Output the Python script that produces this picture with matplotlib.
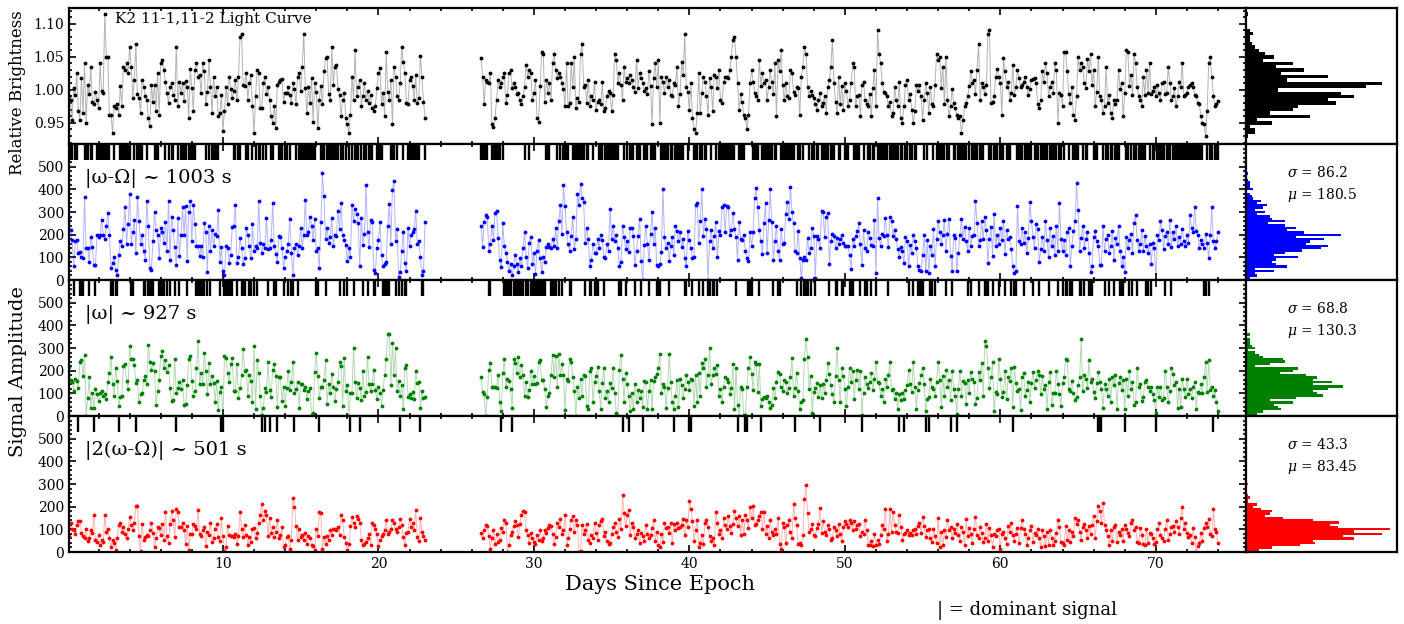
import numpy as np
import matplotlib
matplotlib.use('Agg')
import matplotlib.pyplot as plt
from matplotlib.ticker import MultipleLocator, AutoMinorLocator

plt.rcParams['font.family'] = ['DejaVu Serif']
plt.rcParams['mathtext.fontset'] = 'dejavuserif'

# time sampling (days since epoch), two campaign segments
cadence = 0.1
seg1_start = 0.1
seg2_start = 26.6

# relative brightness in units of 1/1000
bright_seg1 = [
    990, 985, 955, 1003, 992, 1025, 968, 955, 1018, 965,
    1040, 950, 1008, 993, 1035, 982, 978, 997, 985, 972,
    1040, 998, 995, 1115, 1050, 1050, 962, 962, 935, 975,
    972, 978, 962, 1006, 975, 1035, 1030, 1040, 1025, 1065,
    1035, 988, 1015, 1070, 994, 988, 965, 1015, 1005, 990,
    985, 957, 945, 1008, 982, 1008, 968, 1025, 962, 1040,
    1045, 1030, 1012, 995, 980, 1005, 1010, 992, 985, 1065,
    975, 1012, 995, 1010, 983, 1013, 1005, 958, 1032, 1003,
    968, 1030, 1040, 1020, 1022, 995, 1040, 1028, 978, 997,
    1045, 1005, 965, 1020, 990, 1005, 960, 965, 992, 938,
    968, 1005, 978, 1020, 1002, 988, 998, 1015, 985, 1020,
    1080, 1085, 1008, 1006, 1025, 985, 1010, 1022, 975, 935,
    990, 1030, 1025, 972, 972, 1010, 1020, 994, 1005, 985,
    960, 950, 975, 942, 1008, 1012, 1015, 1017, 982, 995,
    995, 1005, 992, 980, 1010, 1002, 978, 1020, 1025, 998,
    1035, 1085, 1003, 965, 1005, 980, 1018, 952, 1010, 997,
    942, 985, 1006, 978, 1028, 1048, 1050, 994, 985, 1065,
    1008, 1035, 1038, 1002, 992, 960, 985, 995, 958, 948,
    935, 962, 1020, 985, 1060, 990, 1005, 1015, 975, 990,
    1010, 985, 998, 980, 992, 972, 968, 975, 1003, 1025,
    1033, 978, 995, 960, 1058, 997, 985, 1015, 948, 1035,
    1020, 990, 985, 1010, 1065, 1042, 1025, 980, 978, 1015,
    1020, 1006, 985, 1022, 980, 988, 1052, 1020, 982, 958,
]
bright_seg2 = [
    1048, 1020, 978, 1015, 1012,
    1010, 1025, 948, 943, 958, 985, 1015, 1005, 1010, 1020,
    1025, 980, 992, 1025, 1030, 1003, 1010, 1005, 994, 995,
    985, 978, 990, 1005, 1038, 1020, 1030, 1025, 985, 995,
    1015, 958, 952, 1006, 1058, 1055, 982, 1015, 995, 1010,
    985, 1040, 1055, 1030, 1018, 1025, 1020, 1010, 1002, 975,
    1040, 975, 980, 1040, 1005, 1050, 972, 988, 982, 1055,
    1070, 1005, 1008, 980, 1015, 975, 990, 985, 1012, 970,
    982, 985, 978, 1012, 968, 972, 990, 998, 996, 968,
    992, 1055, 1045, 1010, 1025, 1008, 985, 1035, 1012, 1018,
    1010, 1022, 1015, 1005, 997, 1045, 1003, 1025, 1018, 1010,
    998, 1003, 994, 1028, 1006, 948, 1018, 1040, 1005, 1045,
    950, 1020, 1012, 995, 1020, 1005, 1015, 992, 990, 1010,
    1008, 1035, 975, 994, 1042, 1022, 1085, 1005, 997, 970,
    1010, 958, 940, 935, 965, 1025, 965, 995, 1020, 1012,
    990, 962, 1018, 1005, 968, 1022, 1020, 1003, 1030, 985,
    980, 1012, 1020, 1020, 1018, 1030, 1050, 1075, 1080, 1050,
    1010, 970, 993, 982, 962, 958, 940, 962, 1010, 1030,
    1012, 995, 990, 985, 1045, 1006, 1025, 1010, 1015, 985,
    1005, 1030, 1012, 994, 1040, 960, 1045, 1028, 1060, 1008,
    985, 1010, 990, 988, 1030, 1025, 997, 992, 1005, 1003,
    962, 1020, 1035, 1065, 1055, 1005, 990, 998, 992, 988,
    978, 970, 985, 995, 975, 980, 990, 965, 1005, 1015,
    1035, 1075, 1010, 982, 965, 1020, 978, 1006, 970, 1010,
    998, 975, 985, 1010, 1040, 1035, 975, 990, 992, 960,
    1008, 1012, 985, 978, 975, 994, 960, 1003, 1030, 975,
    1090, 1055, 1040, 1010, 997, 995, 990, 975, 982, 960,
    965, 1005, 985, 975, 1012, 958, 950, 975, 1007, 1015,
    985, 993, 970, 950, 968, 1008, 998, 1008, 990, 955,
    985, 1010, 996, 965, 1005, 978, 975, 1008, 1055, 1045,
    1050, 1003, 1035, 978, 1050, 985, 960, 975, 1002, 980,
    972, 962, 958, 960, 935, 955, 975, 980, 990, 1006,
    1028, 1010, 1015, 994, 1030, 1070, 985, 1010, 1005, 993,
    1007, 1085, 1090, 980, 982, 990, 1020, 1032, 1020, 1010,
    962, 1048, 1028, 1005, 1012, 985, 996, 1038, 992, 1005,
    1030, 1018, 1005, 1008, 1012, 1020, 1005, 992, 1002, 1015,
    1017, 1018, 1010, 978, 972, 985, 1028, 1012, 1040, 1025,
    990, 1005, 1012, 995, 1040, 1030, 950, 995, 992, 975,
    1058, 1057, 1028, 994, 980, 1005, 962, 955, 990, 1050,
    1030, 1040, 1035, 1010, 1003, 1047, 1028, 1055, 1008, 1030,
    975, 997, 1050, 990, 985, 965, 975, 1035, 980, 992,
    965, 958, 985, 978, 985, 1030, 1002, 1010, 960, 995,
    1060, 1058, 1006, 1022, 992, 1055, 1040, 1005, 990, 985,
    975, 1020, 992, 1030, 995, 1040, 993, 998, 1005, 990,
    1007, 995, 985, 1010, 1012, 994, 995, 1035, 1010, 985,
    990, 1003, 975, 990, 1012, 1005, 1040, 990, 992, 996,
    1005, 1008, 1010, 1005, 992, 990, 980, 978, 960, 950,
    948, 930, 968, 1040, 1050, 1020, 990, 975, 978, 983,
]

# |w - W| amplitude
amp_beat_seg1 = [
    280, 220, 175, 60, 170, 175, 118, 125, 100, 95,
    365, 140, 142, 80, 190, 145, 65, 65, 200, 190,
    200, 265, 200, 180, 240, 295, 200, 55, 75, 100,
    45, 20, 110, 170, 150, 225, 320, 160, 245, 380,
    160, 210, 265, 120, 365, 260, 160, 200, 128, 90,
    350, 240, 55, 45, 170, 300, 220, 200, 95, 230,
    210, 165, 255, 130, 350, 90, 280, 220, 145, 65,
    275, 105, 200, 320, 200, 325, 85, 300, 350, 170,
    330, 245, 150, 150, 105, 150, 100, 250, 210, 35,
    240, 130, 220, 150, 205, 195, 310, 80, 145, 40,
    20, 150, 140, 75, 110, 235, 240, 330, 75, 100,
    185, 140, 70, 95, 230, 200, 150, 95, 245, 130,
    150, 140, 350, 165, 120, 160, 140, 275, 135, 140,
    175, 340, 150, 115, 80, 195, 190, 140, 55, 100,
    130, 160, 270, 120, 22, 140, 160, 110, 150, 230,
    140, 200, 355, 200, 210, 280, 240, 175, 270, 130,
    140, 55, 255, 470, 370, 180, 230, 165, 190, 275,
    150, 200, 195, 305, 225, 340, 200, 175, 155, 85,
    140, 100, 330, 260, 315, 290, 250, 60, 275, 155,
    205, 420, 210, 145, 265, 255, 45, 30, 140, 175,
    255, 110, 60, 70, 80, 240, 335, 160, 395, 435,
    170, 225, 15, 35, 130, 210, 75, 40, 230, 150,
    200, 210, 225, 305, 160, 170, 100, 20, 40, 255,
]
amp_beat_seg2 = [
    240, 145, 258, 288, 280,
    130, 160, 240, 175, 295, 303, 185, 87, 57, 250,
    150, 120, 80, 40, 70, 20, 60, 110, 70, 35,
    95, 60, 140, 210, 100, 55, 165, 190, 70, 120,
    25, 130, 175, 95, 35, 100, 80, 145, 160, 145,
    140, 180, 150, 230, 140, 260, 330, 205, 420, 325,
    210, 160, 130, 195, 280, 135, 180, 380, 330, 425,
    360, 345, 165, 230, 180, 60, 90, 160, 120, 120,
    180, 140, 200, 175, 100, 95, 160, 130, 315, 180,
    240, 170, 200, 140, 60, 80, 240, 190, 135, 170,
    125, 230, 230, 195, 65, 130, 195, 270, 85, 0,
    155, 240, 160, 90, 205, 300, 160, 230, 65, 60,
    70, 125, 400, 190, 140, 165, 85, 150, 190, 110,
    240, 215, 170, 210, 145, 180, 95, 60, 215, 175,
    140, 95, 100, 330, 340, 165, 260, 400, 195, 270,
    225, 0, 170, 220, 140, 195, 255, 100, 215, 200,
    320, 330, 210, 325, 320, 200, 220, 295, 225, 190,
    90, 255, 180, 175, 200, 130, 95, 85, 210, 150,
    210, 360, 405, 320, 220, 170, 115, 250, 340, 120,
    265, 400, 255, 90, 170, 240, 130, 90, 225, 160,
    165, 290, 345, 270, 410, 300, 250, 130, 120, 215,
    95, 10, 90, 100, 90, 185, 120, 140, 230, 195,
    10, 195, 180, 140, 305, 300, 190, 280, 295, 70,
    170, 205, 195, 140, 185, 160, 180, 200, 165, 150,
    150, 150, 110, 50, 180, 150, 195, 215, 250, 160,
    65, 220, 140, 130, 210, 185, 155, 150, 265, 30,
    360, 185, 150, 205, 195, 275, 200, 145, 280, 260,
    195, 220, 180, 135, 100, 145, 130, 75, 190, 170,
    60, 155, 120, 200, 170, 140, 60, 45, 40, 110,
    200, 40, 175, 30, 150, 110, 225, 60, 180, 260,
    210, 160, 200, 265, 130, 205, 270, 105, 40, 200,
    185, 40, 120, 200, 270, 180, 235, 170, 130, 230,
    150, 195, 200, 350, 250, 150, 175, 260, 180, 280,
    220, 75, 180, 235, 105, 290, 150, 200, 160, 230,
    175, 260, 115, 220, 180, 190, 135, 60, 30, 40,
    325, 170, 160, 230, 165, 210, 120, 185, 345, 260,
    190, 140, 245, 225, 80, 135, 190, 130, 260, 175,
    100, 230, 150, 195, 110, 240, 130, 340, 180, 130,
    175, 110, 210, 230, 60, 150, 215, 260, 430, 310,
    130, 185, 240, 140, 180, 210, 120, 35, 60, 190,
    215, 170, 150, 65, 65, 240, 130, 180, 200, 120,
    150, 215, 90, 185, 160, 240, 130, 60, 100, 35,
    190, 140, 175, 205, 120, 250, 285, 175, 130, 160,
    220, 130, 195, 150, 120, 160, 70, 165, 140, 0,
    200, 175, 260, 220, 135, 195, 210, 160, 265, 145,
    210, 180, 240, 150, 190, 160, 225, 170, 150, 200,
    165, 285, 230, 210, 320, 215, 200, 140, 175, 160,
    140, 205, 165, 95, 200, 320, 170, 140, 170, 210,
]

# |w| amplitude
amp_spin_seg1 = [
    215, 160, 150, 110, 165, 155, 125, 240, 245, 175,
    270, 0, 80, 170, 35, 100, 35, 120, 95, 65,
    100, 110, 90, 95, 75, 150, 190, 260, 140, 90,
    210, 155, 45, 85, 90, 220, 230, 155, 120, 310,
    250, 250, 225, 145, 160, 60, 95, 100, 160, 175,
    140, 315, 240, 205, 235, 200, 50, 110, 160, 265,
    285, 210, 245, 195, 225, 125, 65, 70, 250, 100,
    125, 150, 120, 160, 50, 55, 135, 250, 265, 155,
    90, 110, 210, 330, 140, 190, 140, 280, 200, 95,
    235, 140, 175, 145, 60, 155, 25, 105, 130, 0,
    265, 255, 190, 150, 230, 255, 110, 110, 230, 80,
    125, 180, 295, 200, 205, 90, 180, 155, 60, 310,
    30, 245, 190, 90, 5, 35, 125, 105, 240, 115,
    85, 205, 230, 175, 40, 170, 170, 65, 130, 45,
    125, 200, 115, 150, 240, 100, 120, 150, 35, 140,
    140, 115, 130, 75, 110, 125, 5, 15, 195, 280,
    175, 80, 130, 130, 160, 245, 55, 140, 100, 185,
    130, 65, 120, 150, 240, 220, 45, 255, 110, 135,
    0, 100, 100, 300, 150, 80, 145, 125, 70, 200,
    90, 105, 260, 140, 110, 140, 205, 115, 75, 130,
    100, 45, 115, 180, 250, 360, 360, 135, 320, 180,
    300, 110, 155, 90, 135, 30, 210, 225, 85, 95,
    80, 105, 75, 200, 145, 150, 35, 110, 80, 85,
]
amp_spin_seg2 = [
    170, 105, 95, 0, 85,
    205, 235, 130, 130, 130, 125, 180, 60, 20, 190,
    250, 130, 165, 155, 120, 35, 250, 235, 190, 260,
    170, 225, 180, 90, 150, 85, 115, 200, 140, 175,
    140, 145, 240, 245, 160, 160, 120, 40, 90, 100,
    180, 270, 170, 265, 130, 275, 180, 230, 180, 25,
    165, 155, 250, 240, 170, 110, 0, 130, 80, 165,
    90, 180, 175, 45, 30, 200, 210, 60, 150, 175,
    215, 110, 30, 145, 210, 80, 110, 60, 145, 125,
    210, 100, 15, 0, 205, 270, 165, 60, 190, 140,
    90, 20, 100, 30, 140, 60, 115, 80, 110, 40,
    155, 150, 30, 110, 160, 30, 155, 170, 185, 210,
    275, 100, 140, 130, 35, 125, 275, 150, 60, 30,
    90, 160, 40, 165, 135, 80, 120, 180, 150, 115,
    165, 160, 45, 180, 60, 190, 90, 235, 210, 250,
    130, 180, 300, 140, 180, 210, 185, 225, 90, 120,
    60, 130, 170, 165, 150, 95, 125, 230, 30, 210,
    50, 0, 130, 120, 5, 5, 130, 210, 260, 185,
    115, 240, 230, 105, 230, 45, 75, 85, 80, 90,
    60, 35, 50, 125, 80, 150, 195, 185, 130, 110,
    160, 150, 100, 125, 170, 255, 90, 125, 190, 110,
    30, 60, 70, 250, 340, 260, 120, 175, 15, 105,
    125, 145, 85, 135, 80, 140, 100, 160, 235, 185,
    135, 95, 60, 175, 300, 160, 60, 210, 175, 120,
    45, 130, 210, 150, 200, 75, 160, 205, 120, 200,
    5, 100, 170, 140, 125, 150, 190, 115, 165, 240,
    150, 145, 90, 120, 60, 165, 130, 180, 240, 115,
    120, 75, 100, 30, 95, 70, 100, 75, 115, 135,
    205, 140, 105, 240, 130, 30, 115, 145, 180, 210,
    140, 20, 75, 85, 165, 130, 120, 90, 150, 240,
    160, 40, 175, 90, 205, 130, 160, 70, 200, 120,
    90, 10, 120, 200, 90, 155, 145, 55, 160, 100,
    195, 165, 150, 55, 80, 195, 160, 235, 90, 330,
    310, 210, 125, 170, 240, 20, 105, 95, 250, 165,
    85, 105, 200, 75, 170, 155, 210, 40, 215, 145,
    110, 120, 25, 170, 190, 90, 115, 150, 60, 145,
    195, 125, 160, 200, 180, 95, 175, 120, 135, 30,
    150, 195, 50, 100, 100, 200, 140, 95, 45, 145,
    170, 250, 245, 120, 110, 155, 100, 70, 85, 135,
    170, 340, 110, 180, 165, 125, 245, 150, 165, 105,
    80, 145, 195, 150, 120, 35, 140, 120, 90, 165,
    60, 170, 135, 180, 30, 145, 170, 115, 160, 30,
    165, 90, 200, 120, 150, 50, 60, 210, 130, 140,
    65, 85, 150, 160, 130, 110, 130, 95, 70, 15,
    130, 85, 130, 70, 80, 200, 130, 60, 110, 210,
    185, 135, 150, 35, 120, 40, 165, 120, 85, 165,
    95, 120, 80, 130, 150, 30, 105, 100, 140, 100,
    170, 240, 105, 245, 115, 130, 90, 115, 60, 20,
]

# |2(w - W)| amplitude
amp_harm_seg1 = [
    70, 130, 100, 95, 80, 120, 135, 135, 85, 70,
    60, 100, 50, 60, 95, 85, 165, 55, 45, 75,
    30, 55, 45, 165, 90, 100, 60, 20, 55, 40,
    10, 60, 120, 130, 90, 110, 80, 60, 100, 155,
    120, 95, 130, 205, 205, 70, 5, 125, 55, 65,
    75, 70, 95, 130, 85, 20, 60, 110, 105, 75,
    125, 55, 175, 70, 40, 125, 180, 140, 65, 190,
    175, 110, 110, 130, 95, 35, 115, 10, 80, 80,
    125, 115, 100, 185, 80, 70, 95, 110, 25, 90,
    75, 130, 45, 60, 100, 125, 65, 50, 150, 70,
    5, 20, 115, 75, 70, 70, 65, 80, 35, 70,
    175, 100, 65, 120, 75, 30, 65, 45, 100, 105,
    60, 85, 130, 165, 210, 140, 180, 165, 70, 150,
    85, 110, 65, 90, 140, 60, 75, 110, 20, 30,
    65, 70, 15, 55, 240, 200, 115, 55, 100, 65,
    75, 55, 85, 35, 70, 60, 30, 25, 10, 100,
    70, 175, 170, 15, 65, 35, 70, 55, 95, 75,
    100, 100, 95, 110, 75, 165, 140, 65, 40, 10,
    35, 115, 155, 130, 110, 160, 145, 130, 55, 30,
    35, 45, 60, 80, 30, 130, 120, 100, 80, 25,
    55, 70, 80, 95, 140, 80, 90, 100, 140, 130,
    100, 90, 110, 145, 120, 65, 30, 85, 90, 145,
    110, 130, 95, 185, 65, 50, 150, 90, 70, 55,
]
amp_harm_seg2 = [
    85, 60, 95, 120, 115,
    70, 15, 60, 95, 35, 80, 45, 55, 105, 90,
    140, 130, 0, 30, 75, 90, 115, 135, 120, 65,
    125, 165, 180, 175, 95, 75, 40, 85, 60, 45,
    35, 75, 55, 95, 50, 60, 95, 85, 105, 120,
    115, 80, 35, 65, 130, 110, 145, 80, 95, 165,
    30, 60, 100, 140, 160, 90, 140, 120, 0, 5,
    120, 80, 95, 125, 55, 40, 75, 60, 130, 85,
    55, 120, 135, 145, 70, 90, 50, 35, 40, 80,
    110, 130, 90, 65, 145, 100, 250, 170, 115, 165,
    185, 75, 130, 110, 60, 80, 95, 40, 85, 70,
    50, 120, 80, 60, 75, 105, 140, 50, 90, 30,
    20, 80, 45, 130, 105, 110, 85, 130, 40, 125,
    95, 130, 105, 110, 120, 145, 75, 140, 110, 225,
    190, 135, 50, 95, 140, 20, 40, 75, 35, 130,
    140, 110, 70, 50, 60, 30, 175, 130, 80, 95,
    60, 150, 120, 100, 160, 115, 85, 125, 180, 150,
    115, 160, 75, 140, 80, 165, 140, 105, 200, 150,
    205, 120, 125, 140, 160, 175, 100, 175, 80, 115,
    60, 140, 90, 75, 100, 80, 150, 35, 15, 130,
    110, 40, 120, 140, 90, 60, 210, 150, 120, 35,
    40, 30, 75, 235, 295, 170, 90, 100, 125, 75,
    70, 105, 125, 195, 85, 135, 90, 75, 120, 100,
    55, 60, 110, 95, 70, 125, 80, 50, 110, 135,
    125, 110, 140, 130, 95, 135, 100, 120, 125, 70,
    90, 80, 140, 95, 30, 30, 50, 25, 80, 30,
    55, 35, 75, 120, 100, 190, 50, 80, 190, 90,
    175, 120, 90, 85, 165, 110, 55, 80, 85, 95,
    75, 85, 75, 95, 100, 80, 115, 130, 85, 155,
    115, 65, 95, 100, 60, 45, 100, 70, 40, 150,
    20, 90, 30, 95, 65, 140, 95, 110, 60, 100,
    85, 125, 75, 50, 110, 90, 30, 145, 70, 105,
    80, 40, 100, 155, 75, 60, 110, 85, 45, 60,
    125, 50, 105, 75, 20, 80, 70, 95, 100, 15,
    80, 90, 60, 35, 115, 90, 130, 75, 50, 80,
    105, 40, 105, 140, 100, 80, 30, 60, 95, 115,
    45, 85, 75, 100, 60, 20, 95, 70, 25, 90,
    30, 95, 60, 30, 50, 85, 140, 110, 45, 40,
    30, 115, 55, 95, 45, 90, 70, 150, 125, 140,
    90, 55, 110, 125, 95, 60, 115, 80, 120, 160,
    60, 135, 205, 180, 130, 215, 120, 95, 70, 30,
    95, 50, 110, 120, 45, 90, 75, 100, 50, 120,
    100, 85, 70, 130, 140, 95, 110, 45, 40, 105,
    75, 35, 30, 100, 40, 85, 80, 60, 35, 45,
    100, 130, 75, 60, 50, 100, 140, 55, 80, 110,
    115, 90, 135, 110, 80, 150, 200, 100, 130, 85,
    65, 75, 40, 105, 65, 0, 25, 40, 85, 50,
    105, 130, 110, 145, 80, 70, 190, 100, 90, 40,
]

labels = ['|\u03c9-\u03a9| ~ 1003 s', '|\u03c9| ~ 927 s', '|2(\u03c9-\u03a9)| ~ 501 s']
stats_text = [('86.2', '180.5'), ('68.8', '130.3'), ('43.3', '83.45')]
colors = ['blue', 'green', 'red']

# --- assemble segments ---
n1 = min(len(bright_seg1), len(amp_beat_seg1), len(amp_spin_seg1), len(amp_harm_seg1))
n2 = min(len(bright_seg2), len(amp_beat_seg2), len(amp_spin_seg2), len(amp_harm_seg2))
t1 = seg1_start + cadence * np.arange(n1)
t2 = seg2_start + cadence * np.arange(n2)

bright = [np.array(bright_seg1[:n1]) / 1000.0, np.array(bright_seg2[:n2]) / 1000.0]
amps = [
    [np.array(amp_beat_seg1[:n1]), np.array(amp_beat_seg2[:n2])],
    [np.array(amp_spin_seg1[:n1]), np.array(amp_spin_seg2[:n2])],
    [np.array(amp_harm_seg1[:n1]), np.array(amp_harm_seg2[:n2])],
]

t_all = np.concatenate([t1, t2])
stack = np.vstack([np.concatenate(a) for a in amps])
dominant = np.argmax(stack, axis=0)

# histogram bin edges (aligned with the 5-unit reading step)
bright_bins = np.arange(0.9275, 1.125, 0.005)
amp_bins = np.arange(-5, 510, 10)

# --- figure ---
fig = plt.figure(figsize=(14.04, 6.24), dpi=100)
gs = fig.add_gridspec(4, 2, width_ratios=[1177, 151], hspace=0, wspace=0,
                      left=69 / 1404, right=1397 / 1404, top=1 - 8 / 624, bottom=1 - 552 / 624)

axes = []
haxes = []
for i in range(4):
    ax = fig.add_subplot(gs[i, 0], sharex=axes[0] if axes else None)
    hax = fig.add_subplot(gs[i, 1], sharey=ax, sharex=haxes[0] if haxes else None)
    axes.append(ax)
    haxes.append(hax)

def style_main(ax, last):
    ax.tick_params(which='both', direction='in', top=True, right=True, width=1.2,
                   labelsize=10, labelbottom=last)
    ax.tick_params(which='major', length=5)
    ax.tick_params(which='minor', length=2.5)
    for s in ax.spines.values():
        s.set_linewidth(1.6)

# light curve
ax = axes[0]
for t, y in zip([t1, t2], bright):
    ax.plot(t, y, '-', color='gray', alpha=0.6, lw=0.7)
    ax.plot(t, y, '.', color='black', ms=3.5)
ax.set_ylim(0.918, 1.124)
ax.yaxis.set_major_locator(MultipleLocator(0.05))
ax.yaxis.set_minor_locator(AutoMinorLocator(5))
ax.text(0.039, 0.92, 'K2 11-1,11-2 Light Curve', transform=ax.transAxes,
        fontsize=11, va='center', ha='left')
style_main(ax, False)
haxes[0].hist(np.concatenate(bright), bins=bright_bins, orientation='horizontal', color='black')

# signal amplitude panels
for k in range(3):
    ax = axes[k + 1]
    c = colors[k]
    for t, y in zip([t1, t2], amps[k]):
        ax.plot(t, y, '-', color=c, alpha=0.3, lw=0.7)
        ax.plot(t, y, '.', color=c, ms=3.5)
    ax.vlines(t_all[dominant == k], 0.885, 1.0, transform=ax.get_xaxis_transform(),
              color='black', lw=1.7)
    ax.set_ylim(0, 600)
    ax.set_yticks([0, 100, 200, 300, 400, 500])
    ax.yaxis.set_minor_locator(AutoMinorLocator(5))
    ax.text(0.014, 0.75, labels[k], transform=ax.transAxes, fontsize=14,
            va='center', ha='left')
    style_main(ax, k == 2)

    hax = haxes[k + 1]
    hax.hist(np.concatenate(amps[k]), bins=amp_bins, orientation='horizontal', color=c)
    sig, mu = stats_text[k]
    hax.text(0.27, 0.79, r'$\sigma$ = ' + sig, transform=hax.transAxes, fontsize=10, va='center')
    hax.text(0.27, 0.625, r'$\mu$ = ' + mu, transform=hax.transAxes, fontsize=10, va='center')

for hax in haxes:
    hax.tick_params(which='both', left=False, bottom=False, labelleft=False, labelbottom=False)
    for s in hax.spines.values():
        s.set_linewidth(1.6)

axes[0].set_xlim(t1[0], 75.8)
axes[0].xaxis.set_major_locator(MultipleLocator(10))
axes[0].xaxis.set_minor_locator(MultipleLocator(2))

fig.text(18 / 1404, 1 - 93 / 624, 'Relative Brightness', rotation=90, fontsize=12,
         ha='center', va='center')
fig.text(18 / 1404, 1 - 372 / 624, 'Signal Amplitude', rotation=90, fontsize=14,
         ha='center', va='center')
fig.text(660 / 1404, 1 - 585 / 624, 'Days Since Epoch', fontsize=15, ha='center', va='center')
fig.text(937 / 1404, 1 - 610 / 624, '| = dominant signal', fontsize=13, ha='left', va='center')

fig.savefig('out.png', dpi=100)
